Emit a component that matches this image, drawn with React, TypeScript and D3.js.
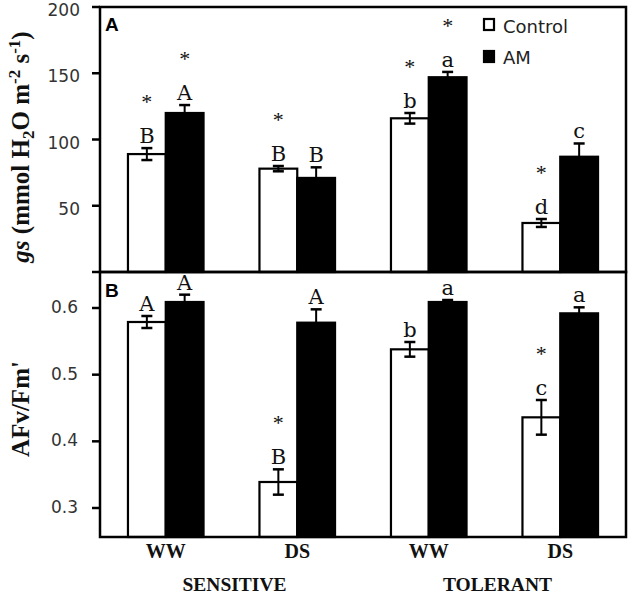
import React from "react";
import * as d3 from "d3";

const groups = ["Sensitive-WW", "Sensitive-DS", "Tolerant-WW", "Tolerant-DS"];
const groupLabels = ["WW", "DS", "WW", "DS"];
const genotypes = ["SENSITIVE", "TOLERANT"];
const series = ["Control", "AM"];

const gsControl = [89, 78, 116, 37];
const gsControlErr = [4.5, 2, 4, 3];
const gsAM = [120, 71, 147, 87];
const gsAMErr = [6, 8, 4, 10];
const gsControlLetters = ["B", "B", "b", "d"];
const gsAMLetters = ["A", "B", "a", "c"];
const gsControlStar = [true, true, true, true];
const gsAMStar = [true, false, true, false];

const fvControl = [0.579, 0.339, 0.538, 0.436];
const fvControlErr = [0.009, 0.019, 0.011, 0.026];
const fvAM = [0.609, 0.578, 0.609, 0.592];
const fvAMErr = [0.011, 0.02, 0.003, 0.009];
const fvControlLetters = ["A", "B", "b", "c"];
const fvAMLetters = ["A", "A", "a", "a"];
const fvControlStar = [false, true, false, true];
const fvAMStar = [false, false, false, false];

const gsTicks = [50, 100, 150, 200];
const fvTicks = [0.3, 0.4, 0.5, 0.6];

const W = 633;
const H = 596;
const left = 100;
const right = 626;
const aTop = 7;
const mid = 272;
const bBottom = 537;

const tickFont = "'DejaVu Sans', sans-serif";
const serif = "'Liberation Serif', 'Times New Roman', serif";
const letterFont = "'DejaVu Serif', serif";

type PanelProps = {
  y: d3.ScaleLinear<number, number>;
  bottom: number;
  control: number[];
  controlErr: number[];
  am: number[];
  amErr: number[];
  cLetters: string[];
  aLetters: string[];
  cStar: boolean[];
  aStar: boolean[];
  x0: d3.ScaleBand<string>;
  x1: d3.ScaleBand<string>;
};

function Panel(p: PanelProps) {
  const items: any[] = [];
  groups.forEach((g, i) => {
    const defs = [
      { s: "Control", v: p.control[i], e: p.controlErr[i], l: p.cLetters[i], st: p.cStar[i], fill: "#fff" },
      { s: "AM", v: p.am[i], e: p.amErr[i], l: p.aLetters[i], st: p.aStar[i], fill: "#000" },
    ];
    defs.forEach((d) => {
      const bx = (p.x0(g) as number) + (p.x1(d.s) as number);
      const bw = p.x1.bandwidth();
      const top = p.y(d.v);
      const cx = bx + bw / 2;
      const eTop = p.y(d.v + d.e);
      const eBot = p.y(d.v - d.e);
      const letterBase = eTop - 5;
      items.push(
        <g key={g + d.s}>
          <rect x={bx} y={top} width={bw} height={p.bottom - top} fill={d.fill} stroke="#000" strokeWidth={2.2} />
          <line x1={cx} x2={cx} y1={eTop} y2={eBot} stroke="#000" strokeWidth={2} />
          <line x1={cx - 5.5} x2={cx + 5.5} y1={eTop} y2={eTop} stroke="#000" strokeWidth={2.5} />
          <line x1={cx - 5.5} x2={cx + 5.5} y1={eBot} y2={eBot} stroke="#000" strokeWidth={2.5} />
          <text x={cx} y={letterBase} textAnchor="middle" fontFamily={letterFont} fontSize={21} fill="#111">
            {d.l}
          </text>
          {d.st ? (
            <text x={cx} y={letterBase - 34} textAnchor="middle" fontFamily={serif} fontSize={22} fill="#111">
              *
            </text>
          ) : null}
        </g>
      );
    });
  });
  return <g>{items}</g>;
}

export default function App() {
  const x0 = d3.scaleBand<string>().domain(groups).range([left, right]).padding(0);
  const x1 = d3.scaleBand<string>().domain(series).range([0, x0.bandwidth()]).paddingInner(0).paddingOuter(0.74);
  const yA = d3.scaleLinear().domain([0, 200]).range([mid, aTop]);
  const yB = d3.scaleLinear().domain([0.3, 0.6]).range([508, 308]);

  const groupCenter = (g: string) => (x0(g) as number) + x0.bandwidth() / 2;

  return (
    <svg width={W} height={H} style={{ position: "absolute", left: 0, top: 0, background: "#fff" }}>
      <rect x={0} y={0} width={W} height={H} fill="#fff" />
      <Panel
        y={yA}
        bottom={mid}
        control={gsControl}
        controlErr={gsControlErr}
        am={gsAM}
        amErr={gsAMErr}
        cLetters={gsControlLetters}
        aLetters={gsAMLetters}
        cStar={gsControlStar}
        aStar={gsAMStar}
        x0={x0}
        x1={x1}
      />
      <Panel
        y={yB}
        bottom={bBottom}
        control={fvControl}
        controlErr={fvControlErr}
        am={fvAM}
        amErr={fvAMErr}
        cLetters={fvControlLetters}
        aLetters={fvAMLetters}
        cStar={fvControlStar}
        aStar={fvAMStar}
        x0={x0}
        x1={x1}
      />
      {/* frames */}
      <rect x={left} y={aTop} width={right - left} height={mid - aTop} fill="none" stroke="#000" strokeWidth={2.5} />
      <rect x={left} y={mid} width={right - left} height={bBottom - mid} fill="none" stroke="#000" strokeWidth={2.5} />

      {/* ticks panel A */}
      {[0, ...gsTicks].map((t) => (
        <line key={"ta" + t} x1={left - 8} x2={left} y1={yA(t)} y2={yA(t)} stroke="#000" strokeWidth={2.5} />
      ))}
      {gsTicks.map((t) => (
        <text key={"la" + t} x={80} y={yA(t) + 4} dominantBaseline="middle" textAnchor="end" fontFamily={tickFont} fontSize={17} fill="#333">
          {t}
        </text>
      ))}
      {/* ticks panel B */}
      {fvTicks.map((t) => (
        <line key={"tb" + t} x1={left - 8} x2={left} y1={yB(t)} y2={yB(t)} stroke="#000" strokeWidth={2.5} />
      ))}
      {fvTicks.map((t) => (
        <text key={"lb" + t} x={78} y={yB(t)} dominantBaseline="middle" textAnchor="end" fontFamily={tickFont} fontSize={17} fill="#333">
          {d3.format(".1f")(t)}
        </text>
      ))}

      {/* panel labels */}
      <text x={105} y={31} fontFamily="'Liberation Sans', Arial, sans-serif" fontWeight="bold" fontSize={19} fill="#000">A</text>
      <text x={105} y={297} fontFamily="'Liberation Sans', Arial, sans-serif" fontWeight="bold" fontSize={19} fill="#000">B</text>

      {/* legend */}
      <rect x={484} y={19} width={10} height={11} fill="#fff" stroke="#000" strokeWidth={2.2} />
      <text x={503} y={33} fontFamily={tickFont} fontSize={18} fill="#222">Control</text>
      <rect x={484} y={51} width={10} height={11} fill="#000" stroke="#000" strokeWidth={2.2} />
      <text x={503} y={64} fontFamily={tickFont} fontSize={18} fill="#222">AM</text>

      {/* y titles */}
      <text transform={`translate(29,147) rotate(-90)`} textAnchor="middle" fontFamily={serif} fontWeight="bold" fontSize={25} fill="#111">
        <tspan fontStyle="italic">gs</tspan>
        <tspan> (mmol  H</tspan>
        <tspan dy={5} fontSize={17}>2</tspan>
        <tspan dy={-5}>O m</tspan>
        <tspan dy={-9} fontSize={17}>-2</tspan>
        <tspan dy={9}> s</tspan>
        <tspan dy={-9} fontSize={17}>-1</tspan>
        <tspan dy={9}>)</tspan>
      </text>
      <text transform={`translate(29,409) rotate(-90)`} textAnchor="middle" fontFamily={serif} fontWeight="bold" fontSize={25} fill="#111">
        AFv/Fm'
      </text>

      {/* x labels */}
      {groups.map((g, i) => (
        <text key={"xl" + g} x={groupCenter(g)} y={558} textAnchor="middle" fontFamily={serif} fontWeight="bold" fontSize={20} fill="#111">
          {groupLabels[i]}
        </text>
      ))}
      {genotypes.map((gt, i) => {
        const cx = (groupCenter(groups[i * 2]) + groupCenter(groups[i * 2 + 1])) / 2 + 3;
        return (
          <text key={gt} x={cx} y={591} textAnchor="middle" fontFamily={serif} fontWeight="bold" fontSize={19.5} fill="#111">
            {gt}
          </text>
        );
      })}
    </svg>
  );
}
